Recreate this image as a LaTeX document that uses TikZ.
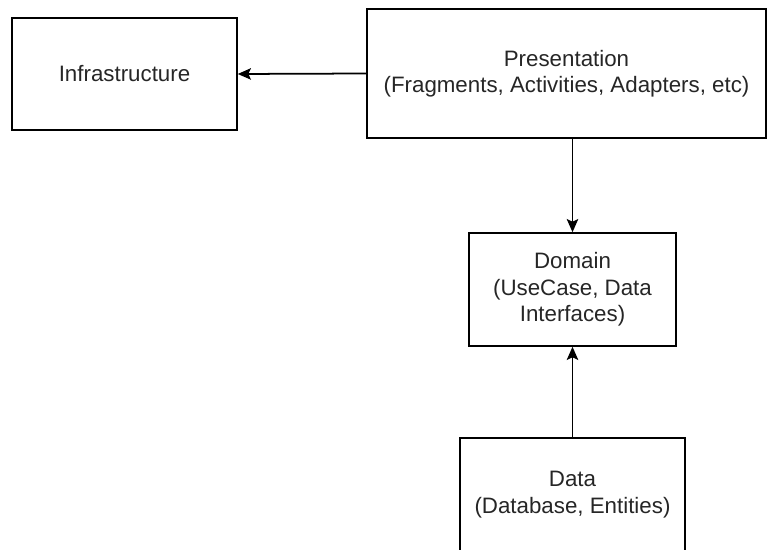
\documentclass[tikz,border=0pt]{standalone}
\usepackage{fontspec}
\setmainfont{Liberation Sans}
\usepackage{tikz}
\usetikzlibrary{calc, arrows.meta}

\tikzset{
	layer/.style={draw,line width=0.85pt,align=center,font=\fontsize{12.7}{15}\selectfont,text=black!85,inner sep=0pt},
	dep/.style={-{Stealth[length=7.5pt,width=6.5pt,inset=1.5pt]},line width=1pt}
}

\begin{document}
\begin{tikzpicture}[x=0.02cm,y=-0.02cm]
		\useasboundingbox (0,0) rectangle (767,550); %枠
		\clip (0,0) rectangle (767,550);
		\node[layer,minimum width=225*0.02cm,minimum height=112*0.02cm](infra)at(124.5,74){Infrastructure};
		\node[layer,minimum width=399*0.02cm,minimum height=129*0.02cm](pres)at(566.5,73.5){Presentation\\(Fragments, Activities, Adapters, etc)};
		\node[layer,minimum width=207*0.02cm,minimum height=113*0.02cm](dom)at(572.5,289.5){Domain\\(UseCase, Data\\Interfaces)};
		\node[layer,minimum width=225*0.02cm,minimum height=113*0.02cm](data)at(572.5,494.5){Data\\(Database, Entities)};
		\draw[dep](pres.west)--(infra.east); %左へ
		\draw[dep](pres.south -| dom.north)--(dom.north); %下へ
		\draw[dep](data.north)--(dom.south); %上へ
	\end{tikzpicture}
\end{document}
